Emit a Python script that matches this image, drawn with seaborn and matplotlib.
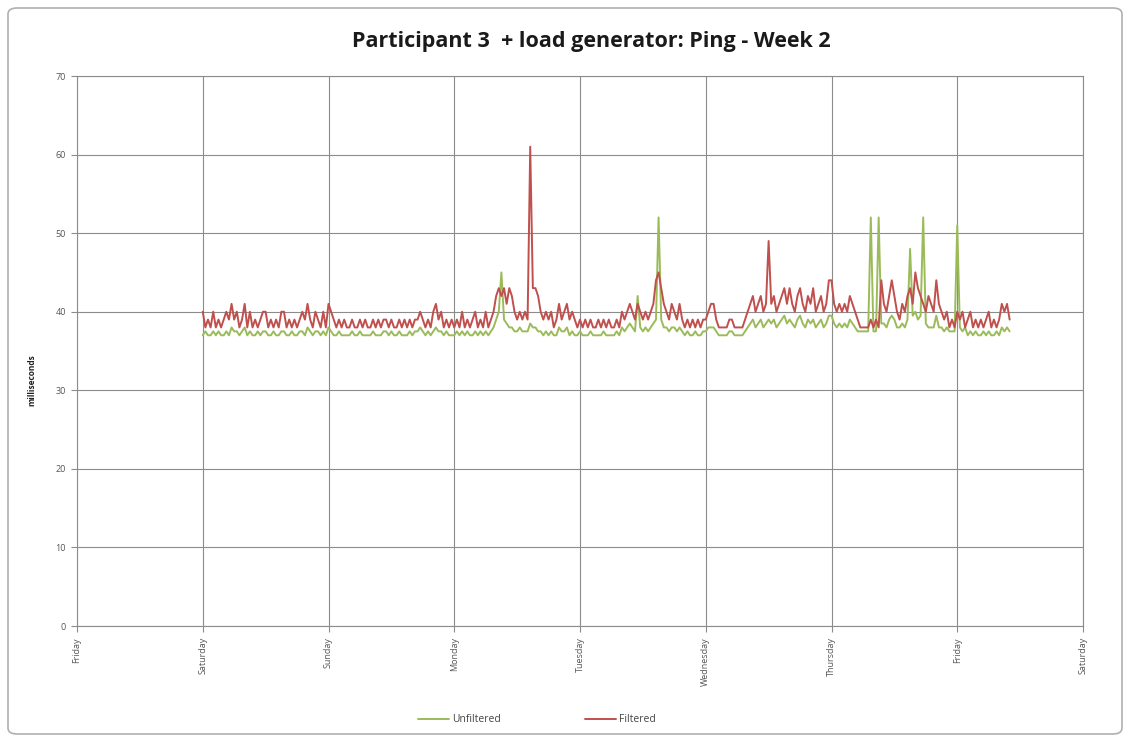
import matplotlib
matplotlib.use("Agg")
import matplotlib.pyplot as plt
import seaborn as sns
import pandas as pd
import numpy as np
from matplotlib.patches import FancyBboxPatch
from matplotlib.lines import Line2D

# ---------------- data (half-hourly samples, starting Saturday 00:00) ----------------
day_labels = ["Friday", "Saturday", "Sunday", "Monday", "Tuesday",
              "Wednesday", "Thursday", "Friday", "Saturday"]
start_day = 1.0
samples_per_day = 48

filtered_sat = [40, 38, 39, 38, 40, 38, 39, 38, 39, 40, 39, 41, 39, 40, 38, 39,
                41, 38, 40, 38, 39, 38, 39, 40, 40, 38, 39, 38, 39, 38, 40, 40,
                38, 39, 38, 39, 38, 39, 40, 39, 41, 39, 38, 40, 39, 38, 40, 38]
filtered_sun = [41, 40, 39, 38, 39, 38, 39, 38, 38, 39, 38, 38, 39, 38, 39, 38,
                38, 39, 38, 39, 38, 39, 39, 38, 39, 38, 38, 39, 38, 39, 38, 39,
                38, 39, 39, 40, 39, 38, 39, 38, 40, 41, 39, 40, 38, 39, 38, 39]
filtered_mon = [38, 39, 38, 40, 38, 39, 38, 39, 40, 38, 39, 38, 40, 38, 39, 40,
                42, 43, 42, 43, 41, 43, 42, 40, 39, 40, 39, 40, 39, 61, 43, 43,
                42, 40, 39, 40, 39, 40, 38, 39, 41, 39, 40, 41, 39, 40, 39, 38]
filtered_tue = [39, 38, 39, 38, 39, 38, 38, 39, 38, 39, 38, 39, 38, 38, 39, 38,
                40, 39, 40, 41, 40, 39, 41, 40, 39, 40, 39, 40, 41, 44, 45, 43,
                41, 40, 39, 41, 40, 39, 41, 39, 38, 39, 38, 39, 38, 39, 38, 39]
filtered_wed = [39, 40, 41, 41, 39, 38, 38, 38, 38, 39, 39, 38, 38, 38, 38, 39,
                40, 41, 42, 40, 41, 42, 40, 41, 49, 41, 42, 40, 41, 42, 43, 41,
                43, 41, 40, 42, 43, 41, 40, 42, 41, 43, 40, 41, 42, 40, 41, 44]
filtered_thu = [44, 41, 40, 41, 40, 41, 40, 42, 41, 40, 39, 38, 38, 38, 38, 39,
                38, 39, 38, 44, 41, 40, 42, 44, 42, 40, 39, 41, 40, 42, 43, 41,
                45, 43, 42, 41, 40, 42, 41, 40, 44, 41, 40, 39, 40, 38, 39, 38]
filtered_fri = [40, 39, 40, 38, 39, 40, 38, 39, 38, 39, 38, 39, 40, 38, 39, 38,
                39, 41, 40, 41, 39]

unfiltered_sat = [37, 37.5, 37, 37, 37.5, 37, 37.5, 37, 37, 37.5, 37, 38, 37.5, 37.5, 37, 37.5,
                  38, 37, 37.5, 37, 37, 37.5, 37, 37.5, 37.5, 37, 37, 37.5, 37, 37, 37.5, 37.5,
                  37, 37, 37.5, 37, 37, 37.5, 37.5, 37, 38, 37.5, 37, 37.5, 37.5, 37, 37.5, 37]
unfiltered_sun = [38, 37.5, 37, 37, 37.5, 37, 37, 37, 37, 37.5, 37, 37, 37.5, 37, 37, 37,
                  37, 37.5, 37, 37, 37, 37.5, 37.5, 37, 37.5, 37, 37, 37.5, 37, 37, 37, 37.5,
                  37, 37.5, 37.5, 38, 37.5, 37, 37.5, 37, 37.5, 38, 37.5, 37.5, 37, 37.5, 37, 37]
unfiltered_mon = [37, 37.5, 37, 37.5, 37, 37.5, 37, 37, 37.5, 37, 37.5, 37, 37.5, 37, 37.5, 38,
                  39, 40, 45, 39, 38.5, 38, 38, 37.5, 37.5, 38, 37.5, 37.5, 37.5, 38.5, 38, 38,
                  37.5, 37.5, 37, 37.5, 37, 37.5, 37, 37, 38, 37.5, 37.5, 38, 37, 37.5, 37, 37]
unfiltered_tue = [37.5, 37, 37, 37, 37.5, 37, 37, 37, 37, 37.5, 37, 37, 37, 37, 37.5, 37,
                  38, 37.5, 38, 38.5, 38, 37.5, 42, 38, 37.5, 38, 37.5, 38, 38.5, 39, 52, 39,
                  38, 38, 37.5, 38, 38, 37.5, 38, 37.5, 37, 37.5, 37, 37, 37.5, 37, 37, 37.5]
unfiltered_wed = [37.5, 38, 38, 38, 37.5, 37, 37, 37, 37, 37.5, 37.5, 37, 37, 37, 37, 37.5,
                  38, 38.5, 39, 38, 38.5, 39, 38, 38.5, 39, 38.5, 39, 38, 38.5, 39, 39.5, 38.5,
                  39, 38.5, 38, 39, 39.5, 38.5, 38, 39, 38.5, 39, 38, 38.5, 39, 38, 38.5, 39.5]
unfiltered_thu = [39.5, 38.5, 38, 38.5, 38, 38.5, 38, 39, 38.5, 38, 37.5, 37.5, 37.5, 37.5, 37.5, 52,
                  37.5, 37.5, 52, 38.5, 38.5, 38, 39, 39.5, 39, 38, 38, 38.5, 38, 39, 48, 39.5,
                  40, 39, 39.5, 52, 38.5, 38, 38, 38, 39.5, 38, 38, 37.5, 38, 37.5, 37.5, 37.5]
unfiltered_fri = [51, 38, 37.5, 38, 37, 37.5, 37, 37.5, 37, 37, 37.5, 37, 37.5, 37, 37, 37.5,
                  37, 38, 37.5, 38, 37.5]

y_ticks = [0, 10, 20, 30, 40, 50, 60, 70]
series_names = ["Unfiltered", "Filtered"]
series_colors = ["#9BBB59", "#C0504D"]

filtered = (filtered_sat + filtered_sun + filtered_mon + filtered_tue +
            filtered_wed + filtered_thu + filtered_fri)
unfiltered = (unfiltered_sat + unfiltered_sun + unfiltered_mon + unfiltered_tue +
              unfiltered_wed + unfiltered_thu + unfiltered_fri)

# ---------------- frame ----------------
n = len(filtered)
t = start_day + np.arange(n) / samples_per_day
df = pd.DataFrame({
    "day": np.concatenate([t, t]),
    "ms": unfiltered + filtered,
    "series": [series_names[0]] * n + [series_names[1]] * n,
})

sns.set_theme(style="white")
plt.rcParams["font.family"] = ["Open Sans", "DejaVu Sans"]

fig = plt.figure(figsize=(11.3, 7.42), dpi=100)
ax = fig.add_axes([77 / 1130, 1 - 626 / 742, (1083 - 77) / 1130, (626 - 76) / 742])

sns.lineplot(data=df, x="day", y="ms", hue="series",
             palette=dict(zip(series_names, series_colors)),
             hue_order=series_names, linewidth=1.4, ax=ax, legend=False,
             estimator=None)

grid_c = "#8c8c8c"
ax.set_xlim(0, 8)
ax.set_ylim(0, 70)
ax.set_xticks(range(len(day_labels)))
ax.set_xticklabels(day_labels, rotation=90, fontsize=6.5, color="#555555")
ax.set_yticks(y_ticks)
ax.set_yticklabels([str(v) for v in y_ticks], fontsize=6.5, color="#555555")
ax.grid(True, color=grid_c, linewidth=0.8)
ax.set_axisbelow(True)
for s in ax.spines.values():
    s.set_color(grid_c)
    s.set_linewidth(0.8)
ax.tick_params(axis="both", which="major", length=4, color=grid_c, width=0.8,
               direction="out", bottom=True, left=True, pad=4)
ax.set_xlabel("")
ax.set_ylabel("")

fig.text(32 / 1130, 1 - 380 / 742, "milliseconds", rotation=90, fontsize=6,
         fontweight="bold", ha="center", va="center", color="#222222")

fig.text(591 / 1130, 1 - 42 / 742, "Participant 3  + load generator: Ping - Week 2",
         fontsize=15.5, fontweight="bold", ha="center", va="center", color="#1a1a1a")

# legend
handles = [Line2D([0], [0], color=c, linewidth=1.4) for c in series_colors]
fig.legend(handles, series_names, loc="center", bbox_to_anchor=(537 / 1130, 1 - 720 / 742),
           ncol=2, frameon=False, fontsize=7.5, handlelength=3.0, handletextpad=0.3,
           columnspacing=8.0, labelcolor="#444444")

# outer rounded border
border = FancyBboxPatch((8 / 1130, 8 / 742), 1 - 16 / 1130, 1 - 16 / 742,
                        boxstyle="round,pad=0,rounding_size=0.008",
                        transform=fig.transFigure, fill=False,
                        edgecolor="#b0b0b0", linewidth=1.2)
fig.patches.append(border)

fig.savefig("out.png", dpi=100)
